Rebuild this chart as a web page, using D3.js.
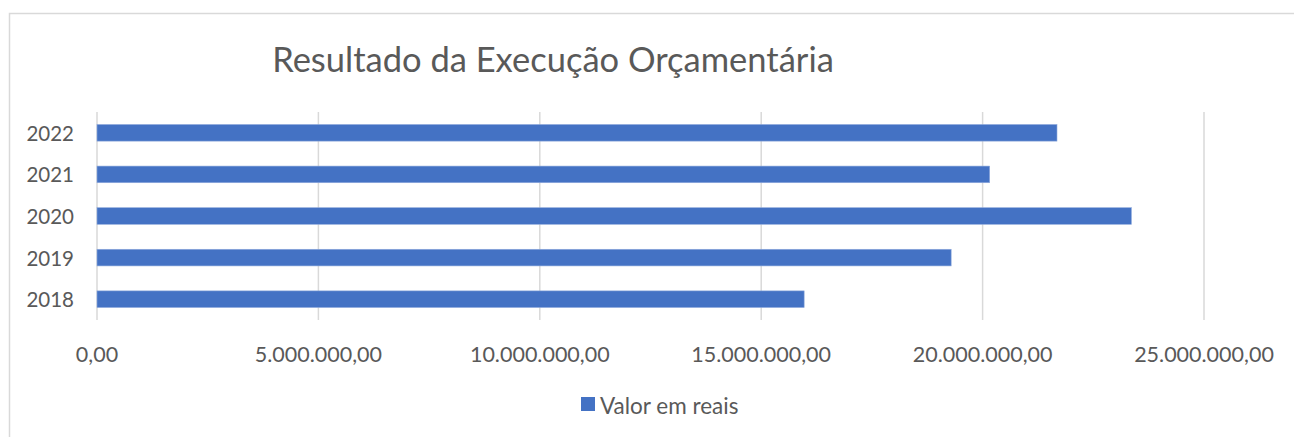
<!DOCTYPE html>
<html>
<head>
<meta charset="utf-8">
<script src="https://cdn.jsdelivr.net/npm/d3@7"></script>
<style>
  body { margin: 0; background: #fff; }
  text { font-family: Lato, "Open Sans", sans-serif; fill: #595959; }
</style>
</head>
<body>
<script>
var title = 'Resultado da Execução Orçamentária'
var seriesName = 'Valor em reais'
var years = ['2018', '2019', '2020', '2021', '2022']
var values = [15970000, 19290000, 23360000, 20160000, 21680000]
var xTicks = [0, 5000000, 10000000, 15000000, 20000000, 25000000]

var W = 1294, H = 437
var plot = {left: 97, right: 1204, top: 112, bottom: 320}

var svg = d3.select('body').append('svg')
    .attr('width', W)
    .attr('height', H)

// chart frame (only top/left edges visible in the crop)
svg.append('rect')
  .attr('x', 9.5).attr('y', 13.5)
  .attr('width', 1400).attr('height', 500)
  .attr('fill', 'none')
  .attr('stroke', '#d9d9d9')
  .attr('stroke-width', 1.5)

var x = d3.scaleLinear()
  .domain([0, 25000000])
  .range([plot.left, plot.right])

var y = d3.scaleBand()
  .domain(years.slice().reverse())
  .range([plot.top, plot.bottom])
  .paddingInner(0.6)
  .paddingOuter(0.3)

var fmt = function(v) {
  var s = d3.format(',.2f')(v)
  return s.replace(/,/g, '#').replace('.', ',').replace(/#/g, '.')
}

// gridlines
svg.append('g').selectAll('line')
  .data(xTicks)
  .enter().append('line')
    .attr('x1', d => x(d)).attr('x2', d => x(d))
    .attr('y1', plot.top).attr('y2', plot.bottom)
    .attr('stroke', '#d9d9d9')
    .attr('stroke-width', 1.5)

// bars
svg.append('g').selectAll('rect')
  .data(years)
  .enter().append('rect')
    .attr('x', x(0))
    .attr('y', d => y(d))
    .attr('width', (d, i) => x(values[i]) - x(0))
    .attr('height', y.bandwidth())
    .attr('fill', '#4472c4')
    .attr('stroke', '#8faadc')
    .attr('stroke-width', 0.6)

// x tick labels
svg.append('g').selectAll('text')
  .data(xTicks)
  .enter().append('text')
    .attr('x', d => x(d))
    .attr('y', 354)
    .attr('text-anchor', 'middle')
    .attr('dominant-baseline', 'central')
    .style('font-size', '21.5px')
    .text(fmt)

// y labels
svg.append('g').selectAll('text')
  .data(years)
  .enter().append('text')
    .attr('x', 74)
    .attr('y', d => y(d) + y.bandwidth() / 2)
    .attr('text-anchor', 'end')
    .attr('dominant-baseline', 'central')
    .style('font-size', '20.5px')
    .text(d => d)

// title
svg.append('text')
  .attr('x', 553)
  .attr('y', 58)
  .attr('text-anchor', 'middle')
  .attr('dominant-baseline', 'central')
  .style('font-size', '34.5px')
  .text(title)

// legend
var lg = svg.append('g')
lg.append('rect')
  .attr('x', 581).attr('y', 397)
  .attr('width', 14).attr('height', 14)
  .attr('fill', '#4472c4')
lg.append('text')
  .attr('x', 600)
  .attr('y', 405)
  .attr('dominant-baseline', 'central')
  .style('font-size', '22.5px')
  .text(seriesName)
</script>
</body>
</html>
